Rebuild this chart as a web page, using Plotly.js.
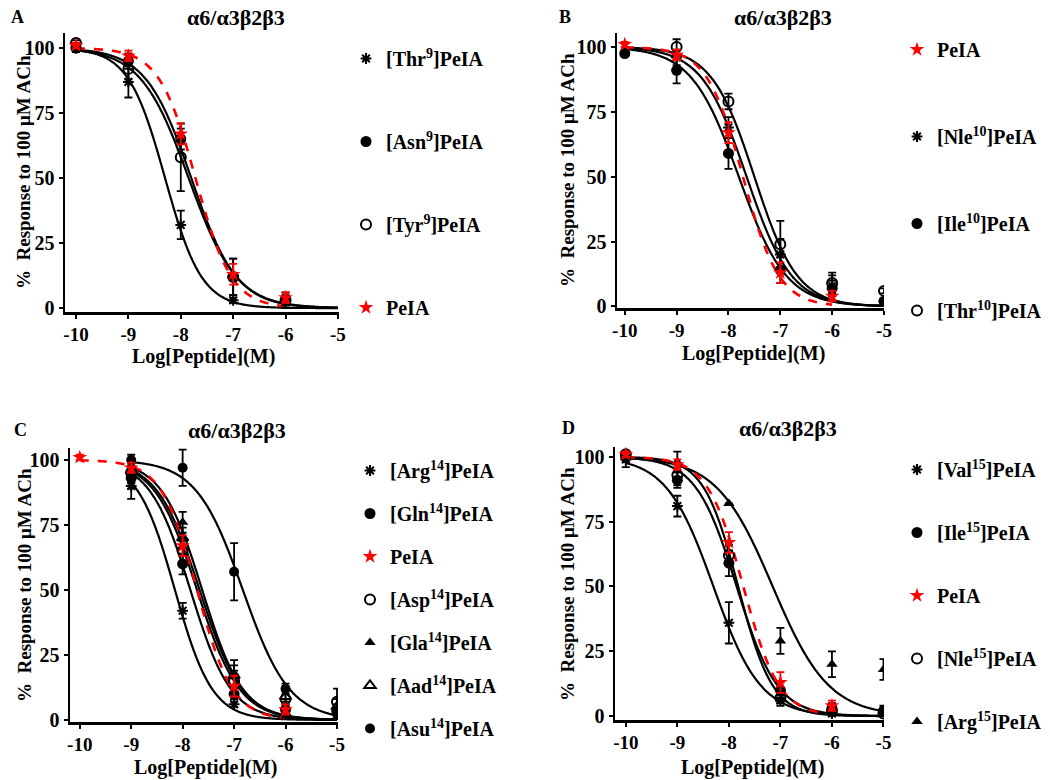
<!DOCTYPE html>
<html><head><meta charset="utf-8">
<script src="https://cdn.plot.ly/plotly-3.0.1.min.js"></script>
<style>body{margin:0;background:#fff}#chart{width:1050px;height:780px}</style>
</head><body><div id="chart"></div>
<script>
// ---- shared x values (log molar concentration) ----
const dose = [-10, -9, -8, -7, -6, -5];
const xTicks = [-10, -9, -8, -7, -6, -5];
const yTicks = [0, 25, 50, 75, 100];

// ---- PeIA control (same in every panel) ----
const peia = [101, 97, 67, 13, 4, null];
const peiaErr = [1, 2, 4, 4, 2, null];
const peiaFit = [-7.72, 1.25];      // logIC50, Hill slope

// ---- Panel A ----
const thr9A = [100, 87, 32, 3, null, null];
const thr9AErr = [1.5, 6, 5.5, 1, null, null];
const asn9A = [100, 95, 65, 12, 3, null];
const asn9AErr = [1, 3, 4, 7, 2, null];
const tyr9A = [102, 92, 58, 12, 3, null];
const tyr9AErr = [1, 4, 13, 7, 3, null];
const fitLogIC50A = [-8.3, -7.8, -7.85];
const fitHillA = [1.24, 1.0, 0.95];

// ---- Panel B ----
const nle10B = [null, 96, 69, 20, 8, 2];
const nle10BErr = [null, 3, 4, 6, 4, 1];
const ile10B = [97.5, 91, 59, 14, 7, 2];
const ile10BErr = [1, 5, 6, 5, 3, 1];
const thr10B = [null, 100, 79, 24, 9, 6];
const thr10BErr = [null, 3, 3, 9, 4, 1];
const fitLogIC50B = [-7.65, -7.8, -7.5];
const fitHillB = [1.0, 0.95, 1.05];

// ---- Panel C ----
const arg14C = [null, 90, 42, 6, 2, 2];
const arg14CErr = [null, 5, 3, 1, 1, 1];
const gln14C = [null, 93, 60, 10, 4, 3];
const gln14CErr = [null, 4, 4, 2, 2, 2];
const asp14C = [null, 95, 65, 15, 8, 7];
const asp14CErr = [null, 4, 5, 4, 3, 5];
const gla14C = [null, 97, 76, 18, 5, 4];
const gla14CErr = [null, 3, 4, 5, 2, 2];
const aad14C = [null, 96, 70, 17, 9, 5];
const aad14CErr = [null, 4, 4, 4, 3, 3];
const asu14C = [null, 100, 97, 57, 12, 3];
const asu14CErr = [null, 2, 7, 11, 2, 2];
const fitLogIC50C = [-8.15, -7.85, -7.72, -7.62, -7.67, -6.83];
const fitHillC = [1.2, 1.1, 1.05, 1.1, 1.05, 0.96];

// ---- Panel D ----
const val15D = [99, 81, 36, 6, 1, null];
const val15DErr = [3, 4, 8, 2, 1, null];
const ile15D = [100, 91, 59, 10, 3, 2];
const ile15DErr = [1, 3, 5, 3, 2, 2];
const nle15D = [101, 93, 62, 7, 2, 1];
const nle15DErr = [1, 4, 4, 2, 1, 1];
const arg15D = [100, 98, 82, 29, 20, 18];
const arg15DErr = [2, 4, 0, 5, 5, 4];
const fitLogIC50D = [-8.3, -7.85, -7.82, -7.15];
const fitHillD = [0.95, 1.1, 1.3, 0.8];

const FONT = 'Liberation Serif, Times New Roman, serif';
const panelTitle = '\u03b16/\u03b13\u03b22\u03b23';
const yTitle = '%\u00a0 Response to 100 \u03bcM ACh';
const xTitle = 'Log[Peptide](M)';

// Hill-equation fit curve drawn through the library from fitted parameters
function fitCurve(logIC50, hill, x0, x1, color, dash, xa, ya) {
  const xs = [], ys = [];
  for (let i = 0; i <= 200; i++) {
    const x = x0 + (x1 - x0) * i / 200;
    xs.push(x);
    ys.push(100 / (1 + Math.pow(10, (x - logIC50) * hill)));
  }
  return {type: 'scatter', mode: 'lines', x: xs, y: ys, xaxis: xa, yaxis: ya,
    line: {color: color, width: dash ? 2.6 : 2.2, dash: dash ? 'dash' : 'solid', shape: 'spline'},
    showlegend: false, hoverinfo: 'skip'};
}

function pts(name, y, err, symbol, color, size, xa, ya, legend, rank) {
  const lineSym = symbol.indexOf('open') >= 0;
  return {type: 'scatter', mode: 'markers', name: name, x: dose, y: y, xaxis: xa, yaxis: ya,
    error_y: {type: 'data', array: err, visible: true, color: color, thickness: 1.8, width: 4},
    marker: {symbol: symbol, size: size, color: color,
      line: {color: color, width: lineSym ? 2 : 0}},
    legend: legend, legendgroup: legend + name, legendrank: rank, showlegend: true};
}

const RED = '#ff0000', BLK = '#000000';
const traces = [];

// Panel A curves + points
traces.push(fitCurve(fitLogIC50A[0], fitHillA[0], -10, -5, BLK, false, 'x', 'y'));
traces.push(fitCurve(fitLogIC50A[1], fitHillA[1], -10, -5, BLK, false, 'x', 'y'));
traces.push(fitCurve(fitLogIC50A[2], fitHillA[2], -10, -5, BLK, false, 'x', 'y'));
traces.push(fitCurve(peiaFit[0], peiaFit[1], -10, -6, RED, true, 'x', 'y'));
traces.push(pts('[Thr<sup>9</sup>]PeIA', thr9A, thr9AErr, 'asterisk-open', BLK, 9, 'x', 'y', 'legend', 1));
traces.push(pts('[Asn<sup>9</sup>]PeIA', asn9A, asn9AErr, 'circle', BLK, 11, 'x', 'y', 'legend', 2));
traces.push(pts('[Tyr<sup>9</sup>]PeIA', tyr9A, tyr9AErr, 'circle-open', BLK, 10, 'x', 'y', 'legend', 3));
traces.push(pts('PeIA', peia, peiaErr, 'star', RED, 11, 'x', 'y', 'legend', 4));

// Panel B
traces.push(fitCurve(fitLogIC50B[0], fitHillB[0], -10, -5, BLK, false, 'x2', 'y2'));
traces.push(fitCurve(fitLogIC50B[1], fitHillB[1], -10, -5, BLK, false, 'x2', 'y2'));
traces.push(fitCurve(fitLogIC50B[2], fitHillB[2], -10, -5, BLK, false, 'x2', 'y2'));
traces.push(fitCurve(peiaFit[0], peiaFit[1], -10, -6, RED, true, 'x2', 'y2'));
traces.push(pts('[Nle<sup>10</sup>]PeIA', nle10B, nle10BErr, 'asterisk-open', BLK, 9, 'x2', 'y2', 'legend2', 2));
traces.push(pts('[Ile<sup>10</sup>]PeIA', ile10B, ile10BErr, 'circle', BLK, 11, 'x2', 'y2', 'legend2', 3));
traces.push(pts('[Thr<sup>10</sup>]PeIA', thr10B, thr10BErr, 'circle-open', BLK, 10, 'x2', 'y2', 'legend2', 4));
traces.push(pts('PeIA', peia, peiaErr, 'star', RED, 11, 'x2', 'y2', 'legend2', 1));

// Panel C
const cSeries = [
  ['[Arg<sup>14</sup>]PeIA', arg14C, arg14CErr, 'asterisk-open', 9, 1],
  ['[Gln<sup>14</sup>]PeIA', gln14C, gln14CErr, 'circle', 11, 2],
  ['[Asp<sup>14</sup>]PeIA', asp14C, asp14CErr, 'circle-open', 10, 4],
  ['[Gla<sup>14</sup>]PeIA', gla14C, gla14CErr, 'triangle-up', 10, 5],
  ['[Aad<sup>14</sup>]PeIA', aad14C, aad14CErr, 'triangle-up-open', 10, 6],
  ['[Asu<sup>14</sup>]PeIA', asu14C, asu14CErr, 'circle', 10, 7]
];
cSeries.forEach((s, i) => traces.push(fitCurve(fitLogIC50C[i], fitHillC[i], -9, -5, BLK, false, 'x3', 'y3')));
traces.push(fitCurve(peiaFit[0], peiaFit[1], -10, -6, RED, true, 'x3', 'y3'));
cSeries.forEach(s => traces.push(pts(s[0], s[1], s[2], s[3], BLK, s[4], 'x3', 'y3', 'legend3', s[5])));
traces.push(pts('PeIA', peia, peiaErr, 'star', RED, 11, 'x3', 'y3', 'legend3', 3));

// Panel D
const dSeries = [
  ['[Val<sup>15</sup>]PeIA', val15D, val15DErr, 'asterisk-open', 9, 1],
  ['[Ile<sup>15</sup>]PeIA', ile15D, ile15DErr, 'circle', 11, 2],
  ['[Nle<sup>15</sup>]PeIA', nle15D, nle15DErr, 'circle-open', 10, 4],
  ['[Arg<sup>15</sup>]PeIA', arg15D, arg15DErr, 'triangle-up', 10, 5]
];
dSeries.forEach((s, i) => traces.push(fitCurve(fitLogIC50D[i], fitHillD[i], -10, -5, BLK, false, 'x4', 'y4')));
traces.push(fitCurve(peiaFit[0], peiaFit[1], -10, -6, RED, true, 'x4', 'y4'));
dSeries.forEach(s => traces.push(pts(s[0], s[1], s[2], s[3], BLK, s[4], 'x4', 'y4', 'legend4', s[5])));
traces.push(pts('PeIA', peia, peiaErr, 'star', RED, 11, 'x4', 'y4', 'legend4', 3));

function xAxis(domain, range, anchor) {
  return {domain: domain, range: range, anchor: anchor, tickvals: xTicks, ticktext: xTicks.map(String),
    ticks: 'outside', ticklen: 4, tickwidth: 2, tickcolor: BLK, showline: true, linewidth: 2.5, linecolor: BLK,
    showgrid: false, zeroline: false, tickfont: {family: FONT, size: 19, weight: 'bold', color: BLK}};
}
function yAxis(domain, range, anchor) {
  return {domain: domain, range: range, anchor: anchor, tickvals: yTicks,
    ticks: 'outside', ticklen: 4, tickwidth: 2, tickcolor: BLK, showline: true, linewidth: 2.5, linecolor: BLK,
    showgrid: false, zeroline: false, tickfont: {family: FONT, size: 20, weight: 'bold', color: BLK}};
}
function legendBox(x, y, gap) {
  return {x: x, y: y, xanchor: 'left', yanchor: 'top', traceorder: 'grouped', tracegroupgap: gap,
    bgcolor: 'rgba(0,0,0,0)', itemwidth: 30, font: {family: FONT, size: 20, weight: 'bold', color: BLK}};
}

const W = 1050, H = 780;
const px = (a, b) => [a / W, b / W];
const py = (top, bottom) => [1 - bottom / H, 1 - top / H];

const annos = [
  ['A', 17, 17, 18, 0], [panelTitle, 236, 17, 22, 0],
  ['B', 565, 17, 18, 0], [panelTitle, 783, 17, 22, 0],
  ['C', 20, 430, 18, 0], [panelTitle, 237, 430, 22, 0],
  ['D', 568, 428, 18, 0], [panelTitle, 788, 428, 22, 0],
  [yTitle, 23, 172, 19, -90], [yTitle, 567, 170, 19, -90],
  [yTitle, 24, 585, 19, -90], [yTitle, 567, 584, 19, -90],
  [xTitle, 203, 357, 20, 0], [xTitle, 753, 354, 20, 0],
  [xTitle, 205, 767, 20, 0], [xTitle, 752, 767, 20, 0]
].map(a => ({text: a[0], x: a[1] / W, y: 1 - a[2] / H, xref: 'paper', yref: 'paper',
  xanchor: 'center', yanchor: 'middle', showarrow: false, textangle: a[4],
  font: {family: FONT, size: a[3], weight: 'bold', color: BLK}}));

const layout = {
  width: W, height: H, margin: {l: 0, r: 0, t: 0, b: 0},
  paper_bgcolor: '#fff', plot_bgcolor: '#fff',
  font: {family: FONT, weight: 'bold', color: BLK},
  xaxis: xAxis(px(65, 339), [-10.21, -4.98], 'y'),
  yaxis: yAxis(py(33, 312), [-1.5, 105.8], 'x'),
  xaxis2: xAxis(px(617, 884), [-10.15, -5.0], 'y2'),
  yaxis2: yAxis(py(33, 308), [-0.6, 105.4], 'x2'),
  xaxis3: xAxis(px(70, 338), [-10.19, -4.98], 'y3'),
  yaxis3: yAxis(py(448, 722), [-0.8, 104.6], 'x3'),
  xaxis4: xAxis(px(615, 884), [-10.21, -4.99], 'y4'),
  yaxis4: yAxis(py(447, 720), [-1.5, 103.8], 'x4'),
  legend: legendBox(346 / W, 1 - 39 / H, 54),
  legend2: legendBox(897 / W, 1 - 30 / H, 58),
  legend3: legendBox(350 / W, 1 - 451 / H, 14),
  legend4: legendBox(897 / W, 1 - 450 / H, 34),
  annotations: annos,
  showlegend: true
};

Plotly.newPlot('chart', traces, layout, {staticPlot: true, displayModeBar: false});
</script>
</body></html>
